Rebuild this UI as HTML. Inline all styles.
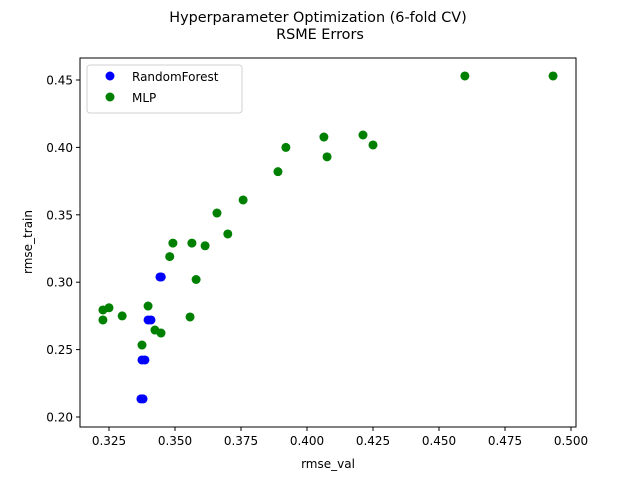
<!DOCTYPE html>
<html><head><meta charset="utf-8"><style>
body{margin:0;background:#fff;font-family:"DejaVu Sans","Liberation Sans",sans-serif}
svg text{font-family:"DejaVu Sans","Liberation Sans",sans-serif;fill:#000}
</style></head><body>
<svg id="chart" width="640" height="480" xmlns="http://www.w3.org/2000/svg">
<rect width="640" height="480" fill="#fff"/>
<text x="318" y="22" font-size="14.4" text-anchor="middle">Hyperparameter Optimization (6-fold CV)</text>
<text x="320" y="39" font-size="14.4" text-anchor="middle">RSME Errors</text>
<g id="plot"></g>
<rect x="80" y="58" width="496" height="369" fill="none" stroke="#000" stroke-width="1"/>
<text x="328" y="468" font-size="12" text-anchor="middle">rmse_val</text>
<text x="0" y="0" font-size="12" text-anchor="middle" transform="translate(32,242) rotate(-90)">rmse_train</text>
<g>
<rect x="87" y="65" width="155" height="48" rx="3" fill="#fff" stroke="#ccc" opacity="0.9"/>
<circle cx="110" cy="76" r="4.5" fill="#0000ff"/>
<text x="132" y="81" font-size="12">RandomForest</text>
<circle cx="110" cy="97" r="4.5" fill="#008000"/>
<text x="132" y="102" font-size="12">MLP</text>
</g>
</svg>
<script>
const xTicks=[0.325,0.350,0.375,0.400,0.425,0.450,0.475,0.500];
const yTicks=[0.20,0.25,0.30,0.35,0.40,0.45];
const rfVal=[0.3443,0.3448,0.3398,0.3409,0.3375,0.3386,0.3371,0.3379];
const rfTrain=[0.3039,0.3039,0.2720,0.2720,0.2423,0.2423,0.2134,0.2134];
const mlpVal=[0.4932,0.4598,0.4212,0.4064,0.4250,0.3920,0.4076,0.3890,0.3758,0.3659,0.3700,0.3492,0.3564,0.3614,0.3480,0.3580,0.3398,0.3227,0.3227,0.3250,0.3300,0.3375,0.3424,0.3447,0.3557];
const mlpTrain=[0.4530,0.4530,0.4092,0.4077,0.4018,0.4000,0.3930,0.3820,0.3610,0.3513,0.3358,0.3290,0.3290,0.3270,0.3190,0.3020,0.2823,0.2794,0.2720,0.2810,0.2750,0.2534,0.2645,0.2623,0.2742];
const NS="http://www.w3.org/2000/svg";
const X=v=>109+(v-0.325)*2640;
const Y=v=>417-(v-0.20)*1348;
const g=document.getElementById('plot');
function mk(t,a){const e=document.createElementNS(NS,t);for(const k in a)e.setAttribute(k,a[k]);g.appendChild(e);return e;}
xTicks.forEach(t=>{
 const l=mk('line',{x1:X(t),x2:X(t),y1:427,y2:431,stroke:'#000'});
 
 
 const tx=mk('text',{x:X(t),y:445,'font-size':12,'text-anchor':'middle'});tx.textContent=t.toFixed(3);
 
 
});
yTicks.forEach(t=>{
 const l=mk('line',{x1:76,x2:80,y1:Y(t),y2:Y(t),stroke:'#000'});
 
 
 const tx=mk('text',{x:73,y:Y(t)+4.5,'font-size':12,'text-anchor':'end'});tx.textContent=t.toFixed(2);
 
 
});
rfVal.forEach((v,i)=>{
 const c=mk('circle',{cx:X(v),cy:Y(rfTrain[i]),r:4.5,fill:'#0000ff'});
 
 
});
mlpVal.forEach((v,i)=>{
 const c=mk('circle',{cx:X(v),cy:Y(mlpTrain[i]),r:4.5,fill:'#008000'});
 
 
});
</script>
</body></html>
